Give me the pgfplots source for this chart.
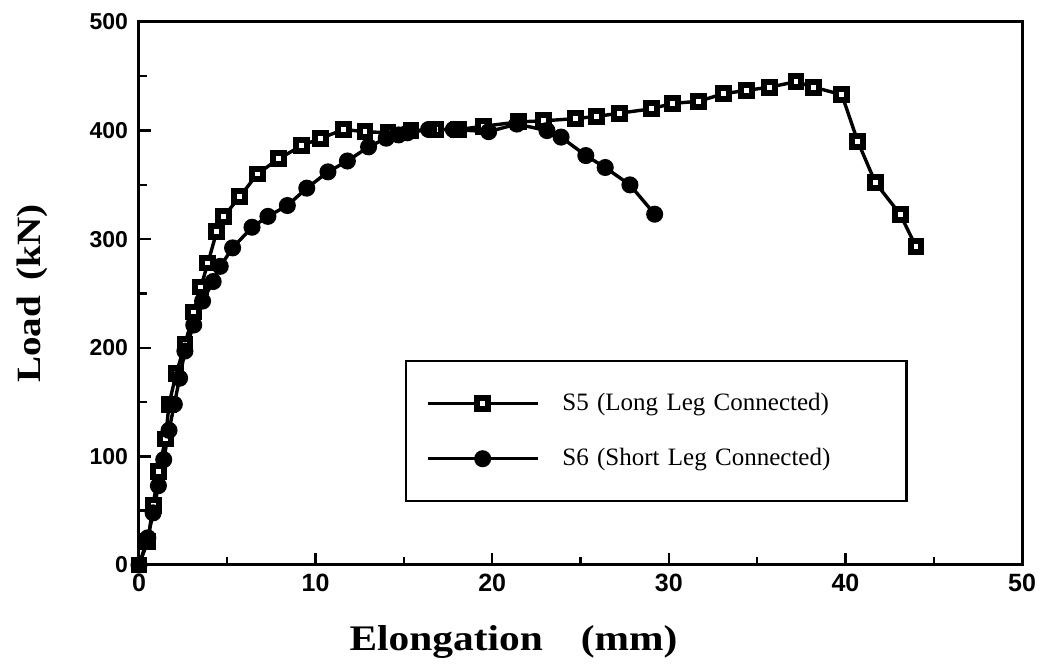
\documentclass[border=0pt]{standalone}
\usepackage{fontspec}
\setmainfont{Liberation Serif}
\newfontfamily\tickfont{Liberation Sans}
\newfontfamily\labfont[FakeStretch=1.15]{Liberation Serif}
\usepackage{pgfplots}
\pgfplotsset{compat=1.18}

\begin{document}
\begin{tikzpicture}
\useasboundingbox (-69.5pt,-51pt) rectangle (452pt,282.5pt);
\begin{axis}[
    at={(0pt,0pt)}, anchor=south west,
    scale only axis,
    width=441.5pt, height=271.5pt,
    xmin=0, xmax=50, ymin=0, ymax=500,
    xtick={0,10,...,50}, ytick={0,100,...,500},
    minor x tick num=1, minor y tick num=1,
    tick pos=left, tick align=inside,
    major tick length=6pt, minor tick length=4pt,
    axis line style={line width=1.5pt},
    every tick/.style={black, line width=1.2pt},
    /pgf/number format/assume math mode=true,
    xticklabel style={font=\tickfont\bfseries\fontsize{12.5}{14}\selectfont, yshift=-1pt},
    yticklabel style={font=\tickfont\bfseries\fontsize{11.5}{13}\selectfont, xshift=-2pt},
    xlabel={Elongation\hspace{19pt}(mm)},
    ylabel={Load\hspace{8pt}(kN)},
    every axis x label/.style={at={(axis description cs:0.5,0)}, anchor=north,
        inner sep=0pt, yshift=-30pt, xshift=-33.5pt,
        font=\labfont\bfseries\fontsize{18}{21}\selectfont},
    every axis y label/.style={at={(axis description cs:-0.121,0.5)}, rotate=90,
        anchor=center, inner sep=0pt,
        font=\labfont\bfseries\fontsize{17}{20}\selectfont},
    legend image code/.code={\draw[mark repeat=2,mark phase=2]
        plot coordinates {(0pt,0pt) (27.5pt,0pt) (55pt,0pt)};},
    legend cell align=left,
    legend style={at={(0.301,0.3775)}, anchor=north west,
        draw=black, line width=1.2pt,
        inner xsep=10pt, inner ysep=16pt, row sep=17.5pt,
        font=\fontsize{12.5}{15}\selectfont,
        nodes={inner sep=0pt},
        /tikz/every odd column/.append style={column sep=11.5pt},
        /tikz/every even column/.append style={nodes={text width=162pt}}},
]

% S5 (Long Leg Connected)
\addplot[black, line width=1.7pt, mark=square*, mark size=2.7pt,
    mark options={fill=white, line width=3pt, solid}] coordinates {
    (0,0) (0.5,22) (0.8,55) (1.1,86) (1.5,116) (1.7,148) (2.1,176)
    (2.6,203) (3.1,233) (3.5,256) (3.9,278) (4.4,307) (4.8,321)
    (5.7,339) (6.7,360) (7.9,374) (9.2,386) (10.3,393) (11.6,401)
    (12.8,399) (14.1,398) (15.4,400) (16.8,401) (18.1,401) (19.5,404)
    (21.5,408) (22.9,409) (24.7,411) (25.9,413) (27.2,416) (29.0,420)
    (30.2,425) (31.7,427) (33.1,434) (34.4,437) (35.7,440) (37.2,445)
    (38.2,440) (39.8,433) (40.7,390) (41.7,352) (43.1,323) (44.0,293)
};
\addlegendentry{S5 (Long Leg Connected)}

% S6 (Short Leg Connected)
\addplot[black, line width=1.7pt, mark=*, mark size=3.4pt] coordinates {
    (0,0) (0.5,25) (0.8,48) (1.1,73) (1.4,97) (1.7,124) (2.0,148)
    (2.3,172) (2.6,197) (3.1,221) (3.6,243) (4.2,261) (4.6,275)
    (5.3,292) (6.4,311) (7.3,321) (8.4,331) (9.5,347) (10.7,362)
    (11.8,372) (13.0,385) (14.0,393) (14.7,396) (15.2,398) (16.4,401)
    (17.8,401) (19.8,399) (21.4,406) (23.1,400) (23.9,394) (25.3,377)
    (26.4,366) (27.8,350) (29.2,323)
};
\addlegendentry{S6 (Short Leg Connected)}

\end{axis}
\end{tikzpicture}
\end{document}
